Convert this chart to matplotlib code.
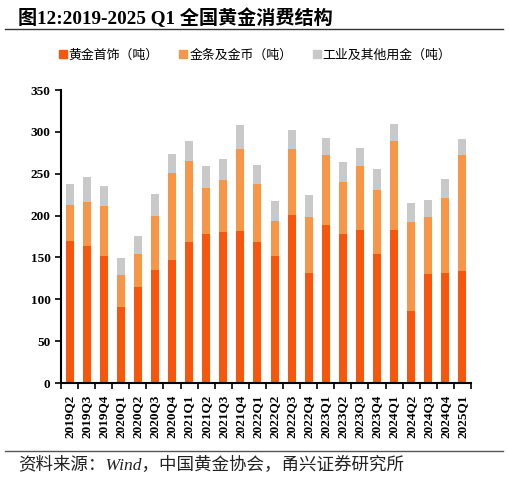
import numpy as np
import matplotlib.pyplot as plt
from matplotlib.lines import Line2D

plt.rcParams['font.family'] = ['Liberation Serif', 'Noto Sans CJK SC']

quarters = ['2019Q2', '2019Q3', '2019Q4', '2020Q1', '2020Q2', '2020Q3', '2020Q4',
            '2021Q1', '2021Q2', '2021Q3', '2021Q4', '2022Q1', '2022Q2', '2022Q3',
            '2022Q4', '2023Q1', '2023Q2', '2023Q3', '2023Q4', '2024Q1', '2024Q2',
            '2024Q3', '2024Q4', '2025Q1']
# stacked totals
jewelry = [169.8, 163.9, 152.3, 91.1, 115.0, 134.8, 146.8, 168.7, 178.6, 179.8, 181.4, 167.9,
           151.2, 200.9, 131.7, 188.9, 178.2, 183.0, 153.9, 183.0, 85.5, 129.7, 131.7, 134.0]
bar_top = [212.4, 216.4, 212.0, 129.3, 154.3, 200.1, 250.6, 264.9, 233.5, 243.0, 280.0, 237.9,
           194.1, 279.6, 198.9, 272.5, 240.7, 259.3, 230.7, 289.2, 192.5, 198.5, 221.6, 272.1]
total = [237.5, 245.8, 235.5, 149.2, 175.8, 225.5, 273.7, 288.8, 259.7, 267.3, 307.9, 261.0,
         217.2, 301.9, 224.3, 292.4, 263.7, 280.8, 255.4, 309.9, 215.6, 218.8, 244.2, 291.2]

jewelry = np.array(jewelry)
bars = np.array(bar_top) - jewelry
other = np.array(total) - np.array(bar_top)

labels = ['黄金首饰（吨）', '金条及金币（吨）', '工业及其他用金（吨）']
colors = ['#F8560C', '#F79646', '#C9C9C9']

fig = plt.figure(figsize=(5.09, 4.78), dpi=100)
ax = fig.add_axes([0.1198, 0.1987, 0.8055, 0.613])

x = np.arange(len(quarters))
w = 0.47
ax.bar(x, jewelry, w, color=colors[0], zorder=2)
ax.bar(x, bars, w, bottom=jewelry, color=colors[1], zorder=2)
ax.bar(x, other, w, bottom=jewelry + bars, color=colors[2], zorder=2)

ax.set_xlim(-0.5, len(quarters) - 0.5)
ax.set_ylim(0, 350)
ax.set_yticks(np.arange(0, 351, 50))
ax.set_xticks(x)
ax.set_xticklabels(quarters, rotation=90, fontsize=9.5, fontweight='bold')
ax.set_xticks(np.arange(-0.5, len(quarters), 1), minor=True)
ax.tick_params(axis='x', which='major', length=0, pad=8)
ax.tick_params(axis='x', which='minor', length=4, width=1.2, direction='out')
ax.tick_params(axis='y', length=4, width=1.2, labelsize=9.5)
for t in ax.get_yticklabels():
    t.set_fontweight('bold')
for s in ['top', 'right']:
    ax.spines[s].set_visible(False)
for s in ['left', 'bottom']:
    ax.spines[s].set_linewidth(1.5)

handles = [Line2D([], [], marker='s', linestyle='None', markersize=6,
                  markerfacecolor=c, markeredgecolor=c) for c in colors]
fig.legend(handles, labels, loc='center', bbox_to_anchor=(0.5, 0.885), ncol=3,
           frameon=False, prop={'family': 'Noto Sans CJK SC', 'size': 9.3},
           handletextpad=0.05, columnspacing=1.5, handlelength=0.8)

fig.text(0.036, 0.963, '图12:2019-2025 Q1 全国黄金消费结构', fontsize=13.8,
         fontweight='bold', va='center', ha='left')
fig.add_artist(Line2D([0.01, 0.988], [0.939, 0.939], color='#333333', lw=1))
fig.add_artist(Line2D([0.01, 0.988], [0.057, 0.057], color='#555555', lw=1))
fig.text(0.036, 0.027, '资料来源：Wind，中国黄金协会，甬兴证券研究所', fontsize=12.6,
         style='italic', va='center', ha='left', color='#222222')

fig.savefig('out.png', dpi=100)
